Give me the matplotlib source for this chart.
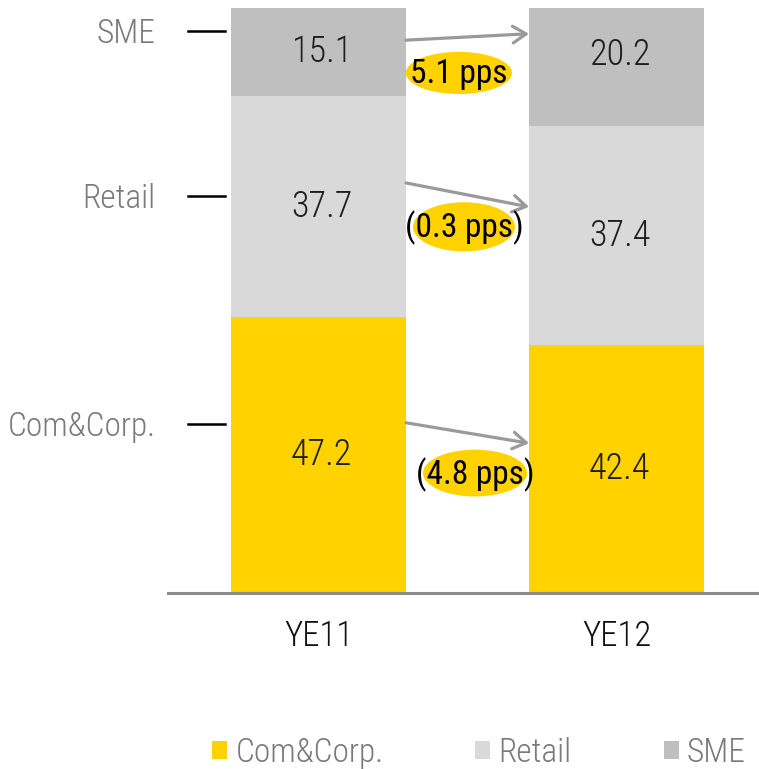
import matplotlib
matplotlib.use("Agg")
import matplotlib.pyplot as plt
from matplotlib.patches import Ellipse, FancyArrowPatch, Patch
from matplotlib.lines import Line2D

plt.rcParams['font.family'] = ['Roboto Condensed', 'DejaVu Sans']
plt.rcParams['font.weight'] = 300

# --- data -------------------------------------------------------------
periods = ["YE11", "YE12"]
segments = ["Com&Corp.", "Retail", "SME"]
com_corp = [47.2, 42.4]
retail = [37.7, 37.4]
sme = [15.1, 20.2]

colors = {"Com&Corp.": "#FFD200", "Retail": "#D9D9D9", "SME": "#BFBFBF"}

W, H = 759, 769
fig = plt.figure(figsize=(W / 100, H / 100), dpi=100)
ax = fig.add_axes([168 / W, (H - 593) / H, (W - 168) / W, 585 / H])

x = list(range(len(periods)))
bar_w = 0.587
series = [com_corp, retail, sme]

bottoms = [0.0] * len(periods)
for name, vals in zip(segments, series):
    ax.bar(x, vals, bottom=bottoms, width=bar_w, color=colors[name],
           edgecolor="none", zorder=2)
    for i, v in enumerate(vals):
        yc = bottoms[i] + v / 2
        if name == "SME" and i == 1:
            yc += 2.0
        ax.text(x[i] + 0.01, yc, f"{v:.1f}", ha="center", va="center",
                fontsize=26, color="#1e1e1e", zorder=4)
    bottoms = [b + v for b, v in zip(bottoms, vals)]

ax.set_xlim(-0.505, 1.478)
ax.set_ylim(0, 100)
ax.set_yticks([])
ax.set_xticks(x)
ax.set_xticklabels(periods, fontsize=25, color="#111111")
ax.tick_params(axis="x", length=0, pad=19)
for s in ["top", "right", "left"]:
    ax.spines[s].set_visible(False)
ax.spines["bottom"].set_color("#8c8c8c")
ax.spines["bottom"].set_linewidth(2.2)

# --- change arrows between the two bars ---------------------------------
arrow_y = {"SME": (94.5, 95.6), "Retail": (70.1, 66.0), "Com&Corp.": (29.1, 25.6)}
x0, x1 = x[0] + bar_w / 2, x[1] - bar_w / 2
for name in segments:
    ya, yb = arrow_y[name]
    arr = FancyArrowPatch((x0, ya), (x1, yb),
                          arrowstyle="->,head_length=0.95,head_width=0.6",
                          mutation_scale=10, color="#9a9a9a", lw=2.3,
                          shrinkA=0, shrinkB=0, zorder=3, clip_on=False)
    ax.add_patch(arr)

# --- change bubbles ---------------------------------------------------
bubbles = {
    "SME": (0.471, 88.9, 0.356, 7.2),
    "Retail": (0.488, 62.6, 0.342, 8.4),
    "Com&Corp.": (0.525, 20.5, 0.349, 8.0),
}
for name, vals in zip(segments, series):
    delta = round(vals[1] - vals[0], 1)
    label = f"{delta:.1f} pps" if delta >= 0 else f"({abs(delta):.1f} pps)"
    cx, cy, ew, eh = bubbles[name]
    ax.add_patch(Ellipse((cx, cy), ew, eh, facecolor="#FFD200",
                         edgecolor="none", zorder=4))
    ax.text(cx, cy - 0.2, label, ha="center", va="center", fontsize=24,
            color="#000000", weight=400, zorder=5)

# --- segment captions on the left -------------------------------------
caption_y = {"SME": 96.1, "Retail": 67.9, "Com&Corp.": 28.9}
for name in segments:
    yy = caption_y[name]
    ax.add_line(Line2D([-0.438, -0.314], [yy, yy], color="#000000", lw=1.8,
                       clip_on=False))
    ax.text(-0.547, yy - 0.6, name, ha="right", va="center", fontsize=24,
            color="#7a7a7a", clip_on=False)

# --- legend -----------------------------------------------------------
handles = [Patch(facecolor=colors[n], edgecolor="none") for n in segments]
leg = fig.legend(handles, segments, loc="center", ncol=3,
                 bbox_to_anchor=(479 / W, (H - 753) / H), frameon=False,
                 fontsize=24, handlelength=0.45, handleheight=0.45,
                 handletextpad=0.25, columnspacing=2.75, borderpad=0)
for t in leg.get_texts():
    t.set_color("#7a7a7a")

fig.savefig("out.png", dpi=100)
